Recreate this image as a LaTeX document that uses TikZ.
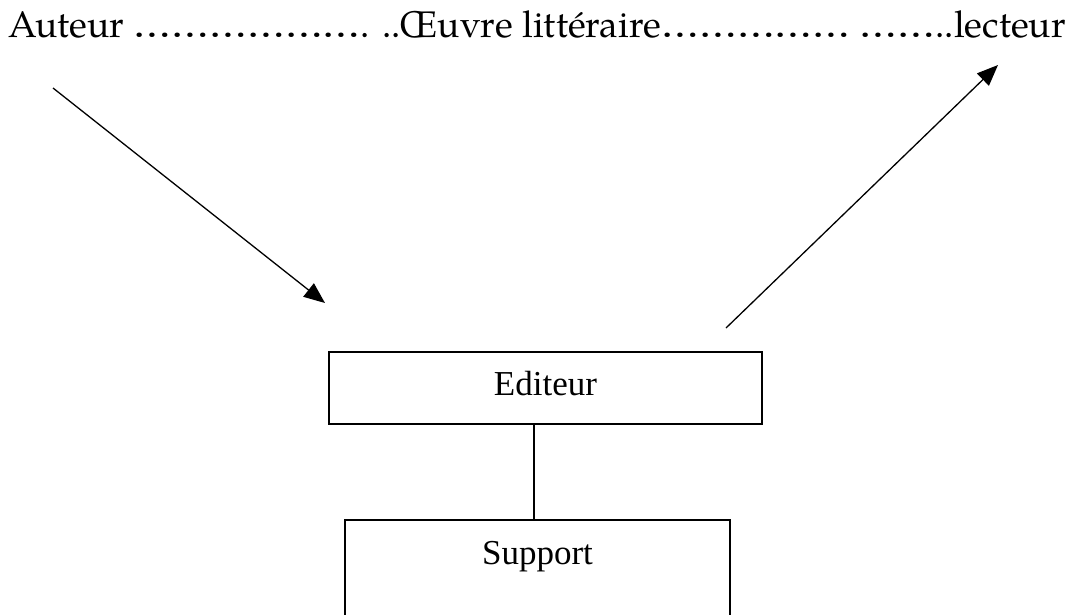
\documentclass[tikz,border=0pt]{standalone}
\usepackage{fontspec}
\usepackage{graphicx}
\setmainfont{Liberation Serif}
\newfontfamily\palfont{TeX Gyre Pagella}
\newcommand\wdots[1]{\scalebox{1.19}[1]{#1}}
\usetikzlibrary{arrows.meta}
\tikzset{
  line/.style={line width=1.3pt, black},
  arr/.style={line, -{Triangle[length=21pt,width=17pt]}},
  box/.style={draw, line width=1.3pt, minimum width=433pt, minimum height=72pt, inner sep=0pt,
    font=\fontsize{35}{40}\selectfont, text height=24pt, text depth=8.6pt},
  title/.style={font=\palfont\fontsize{37}{42}\selectfont, inner sep=0pt, anchor=base west}
}
\begin{document}
\begin{tikzpicture}[x=1pt,y=-1pt]
\useasboundingbox (0,0) rectangle (1072,614);
\clip (0,0) rectangle (1072,614);
\node[title] (head) at (8,37) {Auteur \wdots{………………}. ..Œuvre littéraire\wdots{……………} \wdots{……}..lecteur};
\node[box] (editeur) at (545.5,388) {Editeur};
\node[box, minimum width=385pt, minimum height=120pt, text height=24pt, text depth=56pt] (support) at (537.5,580) {Support};
\coordinate (vx) at (534,0);
\draw[line] (editeur.south -| vx) -- (support.north -| vx);
\coordinate (a1) at (53,88);
\coordinate (a2) at (325,303);
\coordinate (b1) at (726,328);
\coordinate (b2) at (998,65);
\draw[arr] (a1) -- (a2);
\draw[arr] (b1) -- (b2);
\end{tikzpicture}
\end{document}
